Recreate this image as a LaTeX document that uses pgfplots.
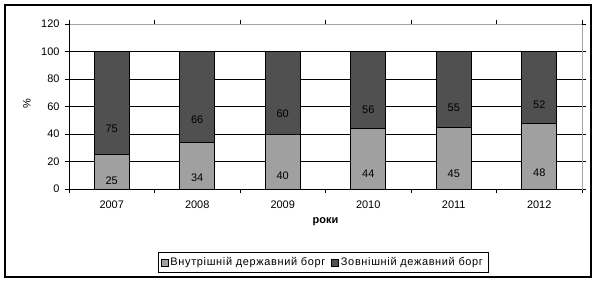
\documentclass[border=0pt]{standalone}
\usepackage{fontspec}
\setmainfont{Liberation Sans}
\usepackage{pgfplots}
\pgfplotsset{compat=1.18}
\definecolor{lightbar}{RGB}{160,160,160}
\definecolor{darkbar}{RGB}{80,80,80}
\begin{document}
\begin{tikzpicture}
\useasboundingbox (-69bp,-93bp) rectangle (528bp,189bp);
\draw[line width=1.2bp] (-64bp,-88bp) rectangle (522bp,184bp);
\begin{axis}[
  at={(0,0)}, anchor=south west,
  scale only axis, width=513bp, height=165bp,
  xmin=-0.5, xmax=5.5, ymin=0, ymax=120,
  ybar stacked, bar width=35bp,
  xtick={0,1,2,3,4,5},
  xticklabels={2007,2008,2009,2010,2011,2012},
  minor xtick={-0.5,0.5,1.5,2.5,3.5,4.5,5.5},
  ytick={0,20,40,60,80,100},
  extra y ticks={120},
  extra y tick style={grid=none},
  ymajorgrids,
  grid style={black, line width=0.7bp},
  tick align=outside,
  major tick length=4bp, minor tick length=4bp,
  major x tick style={draw=none},
  tick style={black, line width=0.7bp},
  axis line style={gray!70, line width=0.7bp},
  /pgf/number format/assume math mode=true,
  ticklabel style={font=\fontsize{11}{13}\selectfont},
  xticklabel style={yshift=-4bp},
  yticklabel style={xshift=-2bp},
  ylabel={\%}, ylabel style={font=\fontsize{11}{13}\selectfont, anchor=center, at={(axis description cs:-0.082,0.52)}},
  xlabel={\textbf{роки}}, xlabel style={font=\fontsize{11}{13}\selectfont, anchor=center, at={(axis description cs:0.5,-0.2)}},
  legend style={at={(0.495,-0.445)}, anchor=center, legend columns=2, draw=black, line width=0.7bp,
    font=\fontsize{11}{13}\selectfont\addfontfeatures{LetterSpace=6}, inner xsep=3bp, inner ysep=3.5bp,
    /tikz/every even column/.append style={column sep=4bp}},
  legend image code/.code={\draw[#1, line width=0.6bp] (0bp,-3.5bp) rectangle (7bp,3.5bp);},
  nodes near coords,
  point meta=explicit,
  visualization depends on={rawy \as \rawy},
  every node near coord/.append style={anchor=center, yshift={-0.34375bp*\rawy},
    font=\fontsize{11}{13}\selectfont, black},
  after end axis/.code={
    \draw[black, line width=0.8bp] (rel axis cs:0,0) -- (rel axis cs:1,0);
    \draw[black, line width=0.8bp] (rel axis cs:0,0) -- (rel axis cs:0,1);
  },
]
\addplot[fill=lightbar, draw=black, line width=0.7bp] coordinates {
  (0,25) [25] (1,34) [34] (2,40) [40] (3,44) [44] (4,45) [45] (5,48) [48]};
\addplot[fill=darkbar, draw=black, line width=0.7bp] coordinates {
  (0,75) [75] (1,66) [66] (2,60) [60] (3,56) [56] (4,55) [55] (5,52) [52]};
\legend{Внутрішній державний борг, Зовнішній дежавний борг}
\end{axis}
\end{tikzpicture}
\end{document}
